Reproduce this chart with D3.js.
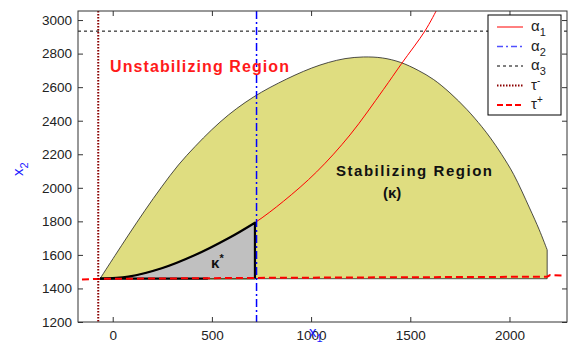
<!DOCTYPE html>
<html>
<head>
<meta charset="utf-8">
<script src="https://cdn.jsdelivr.net/npm/d3@7"></script>
<style>
  html, body { margin: 0; padding: 0; background: #fff; }
  svg { display: block; font-family: "Liberation Sans", Arial, sans-serif; }
</style>
</head>
<body>
<svg id="chart" width="574" height="345"></svg>
<script>
// ---------- data ----------
const xTicks = [0, 500, 1000, 1500, 2000];
const yTicks = [1200, 1400, 1600, 1800, 2000, 2200, 2400, 2600, 2800, 3000];

// stabilizing region (kappa) upper boundary x1 / x2
const stabX = [-64, 12, 79, 163, 247, 331, 415, 499, 583, 667, 750, 835, 919, 1003, 1087, 1171, 1264, 1360, 1450, 1540, 1618, 1700, 1786, 1860, 1904, 1960, 2021, 2101, 2150, 2190];
const stabY = [1458, 1597, 1718, 1866, 2006, 2136, 2246, 2346, 2434, 2508, 2570, 2624, 2672, 2714, 2747, 2770, 2780, 2774, 2748, 2700, 2645, 2566, 2466, 2365, 2297, 2200, 2080, 1880, 1750, 1630];
const baseY = 1458;

// kappa* region upper boundary
const kapX = [-64, 79, 247, 415, 583, 717];
const kapY = [1458, 1470, 1520, 1599, 1699, 1792];

// alpha1 curve
const a1X = [-64, 79, 247, 415, 583, 717, 861, 1028, 1196, 1364, 1457, 1574, 1633];
const a1Y = [1458, 1470, 1520, 1599, 1699, 1792, 1920, 2095, 2315, 2585, 2742, 2935, 3060];

// alpha2 (vertical), alpha3 (horizontal), tau- (vertical)
const alpha2 = 725;
const alpha3 = 2934;
const tauMinus = -73;

// tau+ line
const tauPX = [-155, -64, 723, 1500, 2190, 2205, 2265];
const tauPY = [1454, 1457, 1463, 1467, 1470, 1480, 1477];

const legendItems = ["α1", "α2", "α3", "τ-", "τ+"];

// ---------- layout ----------
const svg = d3.select("#chart");
const L = 78, R = 567, T = 11, B = 322;
const x = d3.scaleLinear().domain([-175, 2290]).range([L, R]);
const y = d3.scaleLinear().domain([1200, 3054]).range([B, T]);

const line = d3.line().x(d => x(d[0])).y(d => y(d[1]));
const smooth = d3.line().x(d => x(d[0])).y(d => y(d[1])).curve(d3.curveCatmullRom.alpha(0.5));
const zip = (a, b) => a.map((v, i) => [v, b[i]]);

// clip
svg.append("defs").append("clipPath").attr("id", "clip")
  .append("rect").attr("x", L).attr("y", T).attr("width", R - L).attr("height", B - T);
const g = svg.append("g").attr("clip-path", "url(#clip)");

// stabilizing region
const stabPath = smooth(zip(stabX, stabY)) +
  "L" + x(stabX[stabX.length - 1]) + "," + y(baseY) +
  "L" + x(stabX[0]) + "," + y(baseY) + "Z";
g.append("path").attr("d", stabPath)
  .attr("fill", "#dfdd80").attr("stroke", "#222").attr("stroke-width", 0.8);

// kappa* region
const kapTop = smooth(zip(kapX, kapY));
const kapPath = kapTop + "L" + x(kapX[kapX.length - 1]) + "," + y(baseY) +
  "L" + x(kapX[0]) + "," + y(baseY) + "Z";
g.append("path").attr("d", kapPath).attr("fill", "#c0c0c0").attr("stroke", "none");

// alpha3
g.append("line").attr("x1", L).attr("x2", R).attr("y1", y(alpha3)).attr("y2", y(alpha3))
  .attr("stroke", "#000").attr("stroke-width", 1).attr("stroke-dasharray", "3,3");

// alpha1
g.append("path").attr("d", smooth(zip(a1X, a1Y))).attr("fill", "none")
  .attr("stroke", "#ff0000").attr("stroke-width", 1);

// kappa* border
g.append("path").attr("d", kapTop + "L" + x(kapX[kapX.length-1]) + "," + y(baseY))
  .attr("fill", "none").attr("stroke", "#000").attr("stroke-width", 2.2).attr("stroke-linejoin", "round");
g.append("line").attr("x1", x(-64)).attr("x2", x(480)).attr("y1", y(baseY)).attr("y2", y(baseY))
  .attr("stroke", "#000").attr("stroke-width", 2.2);
g.append("line").attr("x1", x(480)).attr("x2", x(717)).attr("y1", y(baseY)).attr("y2", y(baseY))
  .attr("stroke", "#55562a").attr("stroke-width", 1.6);

// tau+
g.append("path").attr("d", line(zip(tauPX, tauPY))).attr("fill", "none")
  .attr("stroke", "#ff0000").attr("stroke-width", 2).attr("stroke-dasharray", "7,4");

// alpha2
g.append("line").attr("x1", x(alpha2)).attr("x2", x(alpha2)).attr("y1", T).attr("y2", B)
  .attr("stroke", "#0000ff").attr("stroke-width", 1.5).attr("stroke-dasharray", "8,3,2,3");

// tau-
g.append("line").attr("x1", x(tauMinus)).attr("x2", x(tauMinus)).attr("y1", T).attr("y2", B)
  .attr("stroke", "#8b0000").attr("stroke-width", 2).attr("stroke-dasharray", "1.5,1.5");

// ---------- axes ----------
const tickFont = g2 => g2.selectAll("text").attr("font-size", 13.5).attr("fill", "#222")
  .attr("font-family", "'Liberation Sans', Arial, sans-serif");
const axisStyle = g2 => { g2.select(".domain").remove(); g2.selectAll("line").attr("stroke", "#333"); };

svg.append("g").attr("transform", `translate(0,${B})`)
  .call(d3.axisBottom(x).tickValues(xTicks).tickSize(-5).tickPadding(8).tickFormat(d3.format("d")))
  .call(axisStyle).call(tickFont);
svg.append("g").attr("transform", `translate(${L},0)`)
  .call(d3.axisLeft(y).tickValues(yTicks).tickSize(-5).tickPadding(6).tickFormat(d3.format("d")))
  .call(axisStyle).call(tickFont);
svg.append("g").attr("transform", `translate(0,${T})`)
  .call(d3.axisTop(x).tickValues(xTicks).tickSize(-5).tickFormat(""))
  .call(axisStyle);
svg.append("g").attr("transform", `translate(${R},0)`)
  .call(d3.axisRight(y).tickValues(yTicks).tickSize(-5).tickFormat(""))
  .call(axisStyle);
svg.append("rect").attr("x", L).attr("y", T).attr("width", R - L).attr("height", B - T)
  .attr("fill", "none").attr("stroke", "#333").attr("stroke-width", 1);

// ---------- annotations ----------
svg.append("text").attr("x", 110).attr("y", 72).attr("font-size", 16).attr("font-weight", "bold")
  .attr("fill", "#ff1a1a").attr("textLength", 179).attr("lengthAdjust", "spacing")
  .text("Unstabilizing Region");
svg.append("text").attr("x", 336).attr("y", 176).attr("font-size", 15).attr("font-weight", "bold")
  .attr("fill", "#111").attr("textLength", 156).attr("lengthAdjust", "spacing")
  .text("Stabilizing Region");
svg.append("text").attr("x", 383).attr("y", 198).attr("font-size", 15).attr("font-weight", "bold")
  .attr("fill", "#111").text("(κ)");
const ks = svg.append("text").attr("x", 211).attr("y", 268).attr("font-size", 15).attr("font-weight", "bold")
  .attr("fill", "#111");
ks.append("tspan").text("κ");
ks.append("tspan").attr("dy", -6).attr("font-size", 11).text("*");

// axis labels
const xl = svg.append("text").attr("x", 309).attr("y", 337).attr("font-size", 15).attr("fill", "#1a1aff");
xl.append("tspan").text("x");
xl.append("tspan").attr("dy", 5).attr("font-size", 11).text("1");
const yl = svg.append("text").attr("transform", "translate(23,176) rotate(-90)")
  .attr("font-size", 15).attr("fill", "#1a1aff");
yl.append("tspan").text("x");
yl.append("tspan").attr("dy", 5).attr("font-size", 11).text("2");

// ---------- legend ----------
const lg = svg.append("g");
lg.append("rect").attr("x", 488).attr("y", 15).attr("width", 73).attr("height", 100)
  .attr("fill", "#fff").attr("stroke", "#000").attr("stroke-width", 1);
const legStyles = [
  {stroke: "#ff0000", w: 1, dash: null},
  {stroke: "#5050ff", w: 1.5, dash: "6,3,2,3"},
  {stroke: "#000", w: 1, dash: "3,3"},
  {stroke: "#8b0000", w: 2, dash: "1.5,1.5"},
  {stroke: "#ff0000", w: 2, dash: "6,3"}
];
legendItems.forEach((lab, i) => {
  const yy = 27 + i * 19.5;
  const s = legStyles[i];
  lg.append("line").attr("x1", 497).attr("x2", 523).attr("y1", yy).attr("y2", yy)
    .attr("stroke", s.stroke).attr("stroke-width", s.w).attr("stroke-dasharray", s.dash);
  const t = lg.append("text").attr("x", 531).attr("y", yy + 4).attr("font-size", 15).attr("fill", "#222");
  t.append("tspan").text(lab[0]);
  if (i < 3) t.append("tspan").attr("dy", 5).attr("font-size", 11).text(lab.slice(1));
  else t.append("tspan").attr("dy", -6).attr("font-size", 10).text(lab.slice(1));
});
</script>
</body>
</html>
